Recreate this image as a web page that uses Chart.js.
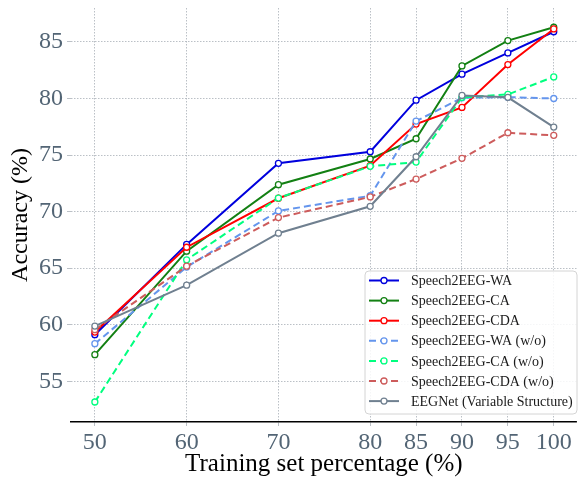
<!DOCTYPE html>
<html>
<head>
<meta charset="utf-8">
<script src="https://cdn.jsdelivr.net/npm/chart.js@4/dist/chart.umd.min.js"></script>
<style>
    body { margin: 0; background: #ffffff; }
    #wrap { width: 582px; height: 483px; }
</style>
</head>
<body>
<div id="wrap"><canvas id="accChart" width="582" height="483"></canvas></div>
<script>
// --- Data ---
const trainPct = [50, 60, 70, 80, 85, 90, 95, 100];
const yTicks = [55, 60, 65, 70, 75, 80, 85];

const waValues      = [59.12, 67.10, 74.27, 75.29, 79.85, 82.15, 84.03, 85.90];
const caValues      = [57.35, 66.50, 72.38, 74.65, 76.44, 82.88, 85.12, 86.30];
const cdaValues     = [59.35, 66.85, 71.18, 74.06, 77.74, 79.21, 83.00, 86.15];
const waWoValues    = [58.32, 65.10, 70.06, 71.40, 78.00, 80.06, 80.12, 80.00];
const caWoValues    = [53.17, 65.74, 71.20, 74.00, 74.38, 80.10, 80.36, 81.91];
const cdaWoValues   = [59.56, 65.18, 69.47, 71.30, 72.88, 74.71, 76.97, 76.74];
const eegnetValues  = [59.88, 63.50, 68.09, 70.47, 74.85, 80.27, 80.10, 77.47];

const seriesNames = [
    "Speech2EEG-WA", "Speech2EEG-CA", "Speech2EEG-CDA",
    "Speech2EEG-WA (w/o)", "Speech2EEG-CA (w/o)", "Speech2EEG-CDA (w/o)",
    "EEGNet (Variable Structure)"
];
const seriesValues = [waValues, caValues, cdaValues, waWoValues, caWoValues, cdaWoValues, eegnetValues];
const seriesColors = ["#0000dd", "#138013", "#ff0000", "#6495ed", "#00ff7f", "#cd5c5c", "#708090"];
const seriesDashed = [false, false, false, true, true, true, false];

const serif = '"Liberation Serif", "Times New Roman", serif';
const tickGray = "#536575";
const gridGray = "#a9b0b7";

// --- Build datasets ---
const datasets = seriesNames.map((name, i) => ({
    label: name,
    data: trainPct.map((x, j) => ({ x: x, y: seriesValues[i][j] })),
    borderColor: seriesColors[i],
    backgroundColor: "#ffffff",
    borderWidth: 2,
    borderDash: seriesDashed[i] ? [7, 4] : [],
    pointRadius: 3,
    pointBorderWidth: 1.3,
    pointBackgroundColor: "#ffffff",
    pointBorderColor: seriesColors[i],
    tension: 0,
    order: seriesNames.length - i   // later series on top, like matplotlib
}));

// --- Legend inside the plot (lower right) ---
const boxLegend = {
    id: "boxLegend",
    afterDatasetsDraw(chart) {
        const ctx = chart.ctx;
        const bx = 365, by = 271, bw = 212, bh = 143;
        ctx.save();
        ctx.beginPath();
        ctx.roundRect(bx, by, bw, bh, 4);
        ctx.fillStyle = "rgba(255,255,255,0.85)";
        ctx.fill();
        ctx.strokeStyle = "#d4d4d4";
        ctx.lineWidth = 1;
        ctx.stroke();

        ctx.font = "14px " + serif;
        ctx.textBaseline = "middle";
        ctx.textAlign = "left";
        seriesNames.forEach((name, i) => {
            const y = 280.5 + i * 20.1;
            ctx.strokeStyle = seriesColors[i];
            ctx.lineWidth = 2;
            ctx.setLineDash(seriesDashed[i] ? [7, 4] : []);
            ctx.beginPath();
            ctx.moveTo(369, y);
            ctx.lineTo(399, y);
            ctx.stroke();
            ctx.setLineDash([]);
            ctx.beginPath();
            ctx.arc(384, y, 3, 0, Math.PI * 2);
            ctx.fillStyle = "#ffffff";
            ctx.fill();
            ctx.lineWidth = 1.3;
            ctx.stroke();
            ctx.fillStyle = "#1a1a1a";
            ctx.fillText(name, 411, y + 1);
        });
        ctx.restore();
    }
};

// --- Chart ---
const ctx = document.getElementById("accChart").getContext("2d");
new Chart(ctx, {
    type: "line",
    data: { datasets: datasets },
    options: {
        responsive: false,
        animation: false,
        devicePixelRatio: 1,
        layout: { padding: { top: 8, right: 0, left: 0, bottom: 0 } },
        plugins: { legend: { display: false }, tooltip: { enabled: false } },
        scales: {
            x: {
                type: "linear",
                min: 47.4,
                max: 102.5,
                afterBuildTicks: (scale) => { scale.ticks = trainPct.map(v => ({ value: v })); },
                afterFit: (scale) => {
                    scale.height = 61;
                    scale.paddingLeft = 0;
                    scale.paddingRight = 0;
                },
                border: { display: true, color: "#000000", width: 1.5, dash: [1.5, 1.5] },
                grid: {
                    color: gridGray,
                    lineWidth: 0.8,
                    tickLength: 4,
                    tickColor: gridGray
                },
                ticks: {
                    color: tickGray,
                    font: { family: serif, size: 24 },
                    padding: 2,
                    maxRotation: 0,
                    autoSkip: false
                },
                title: {
                    display: true,
                    text: "Training set percentage (%)",
                    color: "#000000",
                    font: { family: serif, size: 25 },
                    padding: { top: 0, bottom: 4 }
                }
            },
            y: {
                min: 51.4,
                max: 88,
                afterBuildTicks: (scale) => { scale.ticks = yTicks.map(v => ({ value: v })); },
                afterFit: (scale) => {
                    scale.width = 71;
                    scale.paddingTop = 0;
                    scale.paddingBottom = 0;
                },
                border: { display: false, dash: [1.5, 1.5] },
                grid: {
                    color: gridGray,
                    lineWidth: 0.8,
                    tickLength: 4,
                    tickColor: gridGray
                },
                ticks: {
                    color: tickGray,
                    font: { family: serif, size: 24 },
                    padding: 4
                },
                title: {
                    display: true,
                    text: "Accuracy (%)",
                    color: "#000000",
                    font: { family: serif, size: 24 },
                    padding: { top: 6, bottom: 0 }
                }
            }
        }
    },
    plugins: [boxLegend]
});
</script>
</body>
</html>
